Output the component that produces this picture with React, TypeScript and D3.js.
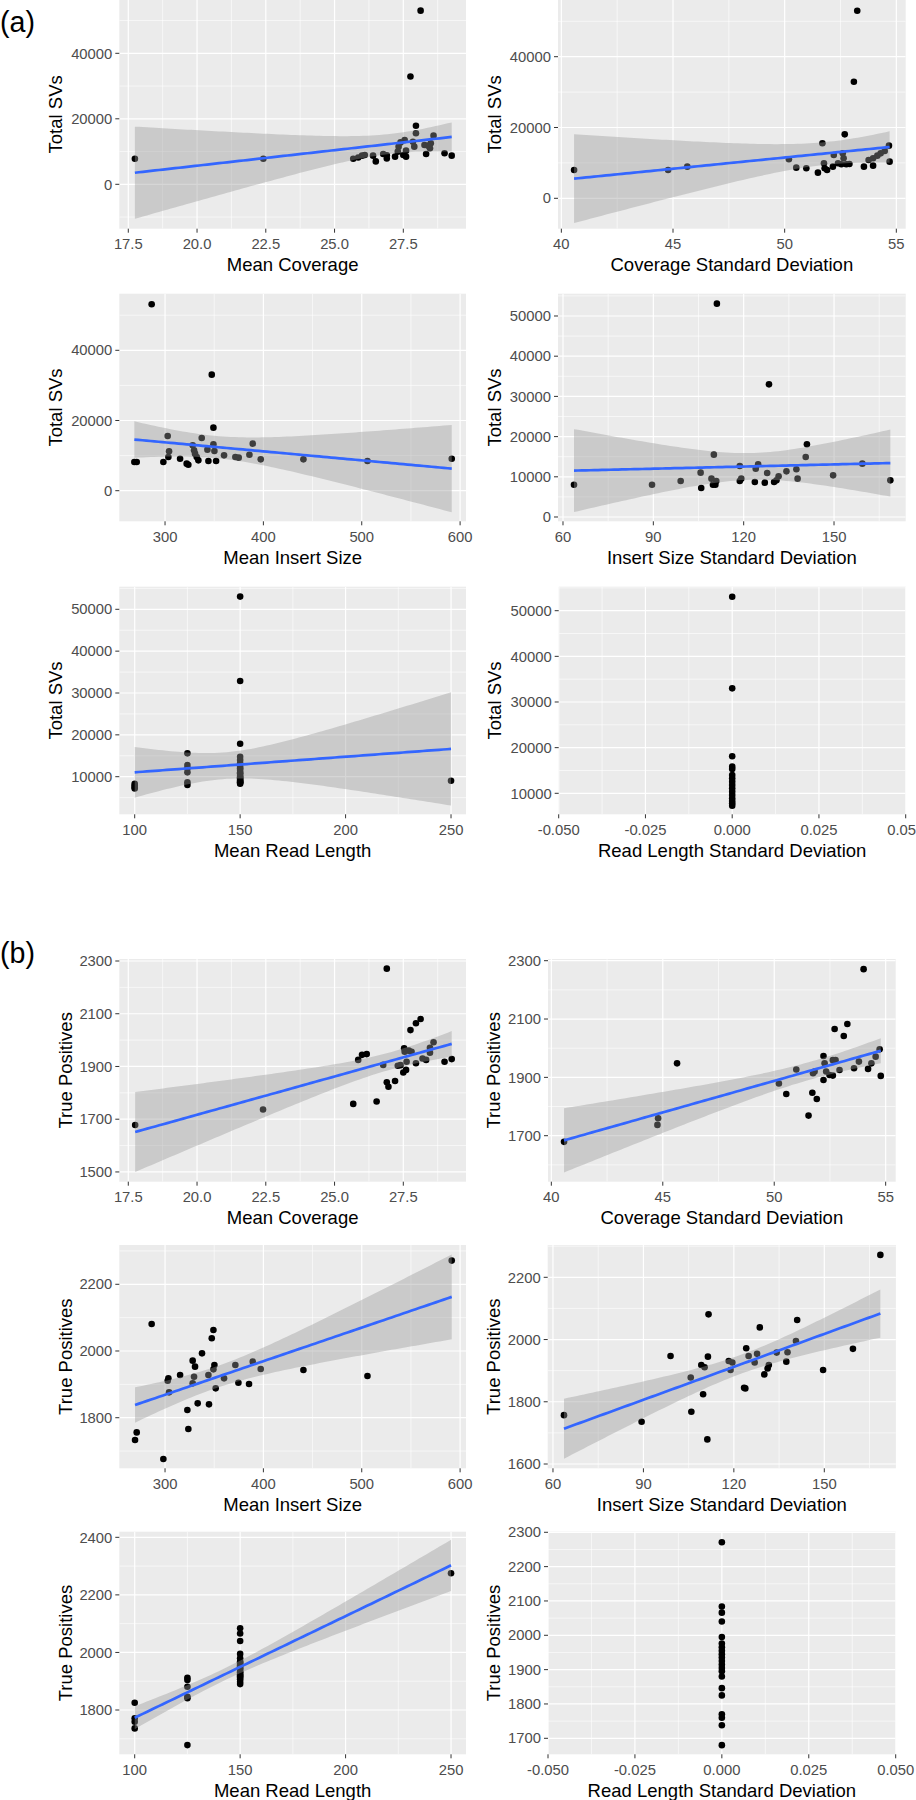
import React from "react";
import * as d3 from "d3";

type Pt = [number, number];

// (a) Total SVs against each metric
const meanCoverageSVs: Pt[] = [
  [17.74, 7800], [22.41, 7800], [25.68, 7800], [25.86, 8200], [26.0, 8750], [26.1, 8950],
  [26.4, 8750], [26.5, 7000], [26.77, 9260], [26.9, 8850], [26.9, 7900], [27.2, 8450],
  [27.3, 9970], [27.33, 11500], [27.4, 12800], [27.5, 8950], [27.55, 13500], [27.6, 10280],
  [27.6, 8450], [27.76, 32900], [27.9, 11500], [27.85, 13000], [27.96, 15570], [27.96, 17900],
  [28.13, 53030], [28.27, 12000], [28.33, 9260], [28.4, 11800], [28.47, 11000], [28.6, 14860],
  [28.5, 12500], [29.0, 9460], [29.26, 8750],
];

const coverageSdSVs: Pt[] = [
  [40.57, 8000], [44.78, 8000], [45.64, 8940], [50.19, 11010], [50.52, 8660], [50.97, 8470],
  [51.49, 7250], [51.69, 15530], [51.76, 9880], [51.79, 8470], [51.9, 8000], [52.16, 8940],
  [52.2, 12240], [52.39, 9880], [52.54, 9600], [52.6, 12700], [52.64, 11300], [52.69, 18070],
  [52.76, 9600], [52.9, 9690], [53.1, 32940], [53.25, 52990], [53.55, 8940], [53.76, 10820],
  [53.96, 9220], [53.96, 11300], [54.15, 12050], [54.3, 12700], [54.48, 13360], [54.67, 14870],
  [54.7, 10350],
];

const insertMeanSVs: Pt[] = [
  [268.8, 8170], [271.2, 8170], [286.4, 53100], [298.3, 8170], [302.7, 15580], [303.4, 9600],
  [304.1, 11210], [315.3, 9120], [322.0, 7700], [323.7, 7410], [328.1, 12920], [329.5, 11500],
  [330.5, 10550], [332.2, 9600], [333.9, 8650], [337.3, 15010], [343.1, 11690], [344.1, 8460],
  [347.5, 33060], [349.2, 17960], [349.2, 13210], [350.2, 11310], [351.9, 8460], [360.0, 10070],
  [371.5, 9600], [374.9, 9410], [385.8, 10260], [389.2, 13400], [397.3, 8930], [440.7, 8930],
  [505.8, 8460], [591.5, 9120],
];

const insertSdSVs: Pt[] = [
  [63.65, 8040], [89.56, 8040], [99.08, 8960], [105.7, 11030], [105.9, 7210], [109.3, 9540],
  [109.8, 8040], [110.1, 15510], [110.6, 8040], [110.9, 8960], [111.1, 53070], [118.7, 12690],
  [118.7, 8960], [119.2, 9540], [123.7, 8710], [124.0, 12020], [124.8, 13100], [127.0, 8540],
  [127.8, 10950], [128.4, 33000], [130.1, 8710], [130.9, 9120], [131.6, 10120], [134.2, 11360],
  [137.5, 11860], [137.9, 9540], [140.6, 14930], [141.0, 18080], [149.7, 10360], [159.4, 13270],
  [168.7, 9120],
];

const readLengthSVs: Pt[] = [
  [100, 8300], [100, 7900], [100, 7500], [100, 7200],
  [125, 15580], [125, 12790], [125, 11990], [125, 11040], [125, 8650], [125, 8010],
  [150, 53030], [150, 32870], [150, 17890], [150, 14780], [150, 13980], [150, 13190],
  [150, 12390], [150, 12000], [150, 11590], [150, 11000], [150, 10800], [150, 10400],
  [150, 10000], [150, 9800], [150, 9600], [150, 9200], [150, 9000], [150, 8800],
  [150, 8650], [150, 8500], [150, 8330],
  [250, 9040],
];

// read length SD is 0 for every sample, only the SV counts vary
const readLengthSdSVs: number[] = [
  53070, 32990, 18100, 15840, 15330, 14010, 13280, 12550, 11820, 11100, 10360, 9640, 8900,
  8320, 7810, 7300,
];

// (b) True Positives against each metric
const meanCoverageTP: Pt[] = [
  [17.75, 1678], [22.4, 1737], [25.68, 1758], [26.53, 1767], [26.9, 2271], [25.86, 1925],
  [26.0, 1944], [26.17, 1947], [26.77, 1906], [26.9, 1840], [26.96, 1823], [27.2, 1845],
  [27.3, 1903], [27.4, 1905], [27.5, 1877], [27.6, 1887], [27.53, 1969], [27.55, 1956],
  [27.62, 1918], [27.7, 1960], [27.76, 2038], [27.96, 2064], [28.13, 2080], [27.8, 1956],
  [27.96, 1912], [28.2, 1930], [28.33, 1925], [28.47, 1971], [28.6, 1992], [28.47, 1952],
  [29.0, 1918], [29.26, 1928],
];

const coverageSdTP: Pt[] = [
  [40.57, 1679], [44.76, 1737], [44.79, 1760], [45.64, 1948], [50.21, 1879], [50.54, 1843],
  [50.99, 1927], [51.54, 1769], [51.71, 1847], [51.74, 1914], [51.81, 1920], [51.91, 1826],
  [52.21, 1973], [52.21, 1891], [52.26, 1948], [52.33, 1920], [52.48, 1908], [52.63, 1906],
  [52.63, 1959], [52.71, 2066], [52.75, 1959], [52.93, 1925], [53.12, 2042], [53.28, 2083],
  [53.58, 1931], [53.8, 1954], [54.01, 2271], [54.21, 1929], [54.36, 1948], [54.55, 1971],
  [54.73, 1996], [54.78, 1905],
];

const insertMeanTP: Pt[] = [
  [269.5, 1733], [271.2, 1756], [286.4, 2081], [298.3, 1676], [302.7, 1911], [303.4, 1918],
  [304.1, 1876], [315.3, 1928], [322.7, 1823], [323.7, 1766], [328.1, 1971], [330.5, 1953],
  [329.5, 1923], [328.1, 1903], [333.2, 1843], [337.6, 1993], [344.1, 1928], [344.7, 1840],
  [347.5, 2038], [349.2, 2063], [350.2, 1958], [349.2, 1945], [351.5, 1888], [360.0, 1918],
  [371.5, 1958], [374.6, 1905], [385.4, 1901], [389.2, 1968], [397.3, 1946], [440.7, 1943],
  [505.8, 1925], [591.5, 2271],
];

const insertSdTP: Pt[] = [
  [63.65, 1757], [89.4, 1736], [99.0, 1947], [105.7, 1878], [105.9, 1768], [109.2, 1918],
  [109.8, 1824], [110.3, 1911], [111.4, 1945], [111.2, 1679], [111.6, 2081], [118.3, 1931],
  [118.9, 1902], [119.5, 1926], [123.4, 1845], [123.8, 1843], [124.1, 1972], [124.9, 1947],
  [126.9, 1926], [127.7, 1954], [128.6, 2039], [130.1, 1888], [131.2, 1907], [131.6, 1918],
  [134.2, 1958], [137.4, 1929], [137.8, 1959], [140.6, 1995], [141.0, 2063], [149.6, 1902],
  [159.5, 1970], [168.6, 2272],
];

const readLengthTP: Pt[] = [
  [100, 1825], [100, 1771], [100, 1759], [100, 1736],
  [125, 1912], [125, 1904], [125, 1881], [125, 1846], [125, 1841], [125, 1678],
  [150, 2084], [150, 2066], [150, 2040], [150, 1995], [150, 1980], [150, 1968],
  [150, 1965], [150, 1960], [150, 1955], [150, 1951], [150, 1945], [150, 1941],
  [150, 1933], [150, 1930], [150, 1924], [150, 1920], [150, 1916], [150, 1912],
  [150, 1907], [150, 1898], [150, 1890],
  [250, 2275],
];

const readLengthSdTP: number[] = [
  2271, 2084, 2066, 2040, 1995, 1976, 1965, 1955, 1945, 1935, 1925, 1915, 1905, 1895, 1880,
  1846, 1825, 1770, 1760, 1738, 1680,
];

// tick values
const covTicks = [17.5, 20, 22.5, 25, 27.5];
const covSdTicks = [40, 45, 50, 55];
const insTicks = [300, 400, 500, 600];
const insSdTicks = [60, 90, 120, 150];
const rlTicks = [100, 150, 200, 250];
const rlSdTicks = [-0.05, -0.025, 0, 0.025, 0.05];
const svTicks3 = [0, 20000, 40000];
const svTicks6 = [0, 10000, 20000, 30000, 40000, 50000];
const svTicks5 = [10000, 20000, 30000, 40000, 50000];

const FONT = "'Liberation Sans', Arial, Helvetica, sans-serif";
const f1 = (v: number) => v.toFixed(1);
const f0 = (v: number) => String(v);
const f3 = (v: number) => v.toFixed(3);

const panels = [
  { id: "a1", rect: [119.3, 0, 466, 228.7], xd: [17.173, 29.78], yd: [-13557, 56275], xt: covTicks, xf: f1, yt: svTicks3, xTitle: "Mean Coverage", yTitle: "Total SVs", yTitleX: 62, data: meanCoverageSVs, smooth: true },
  { id: "a2", rect: [558, 0, 905.7, 228.7], xd: [39.85, 55.42], yd: [-8588, 56017], xt: covSdTicks, xf: f0, yt: svTicks3, xTitle: "Coverage Standard Deviation", yTitle: "Total SVs", yTitleX: 500.7, data: coverageSdSVs, smooth: true },
  { id: "a3", rect: [119.3, 293.7, 466, 521.3], xd: [253.5, 606], yd: [-8718, 56125], xt: insTicks, xf: f0, yt: svTicks3, xTitle: "Mean Insert Size", yTitle: "Total SVs", yTitleX: 62, data: insertMeanSVs, smooth: true },
  { id: "a4", rect: [558, 293.7, 905.7, 521.3], xd: [58.34, 173.8], yd: [-1070, 55547], xt: insSdTicks, xf: f0, yt: svTicks6, xTitle: "Insert Size Standard Deviation", yTitle: "Total SVs", yTitleX: 500.7, data: insertSdSVs, smooth: true },
  { id: "a5", rect: [119.3, 586.7, 466, 814.3], xd: [92.7, 257.1], yd: [1016, 55400], xt: rlTicks, xf: f0, yt: svTicks5, xTitle: "Mean Read Length", yTitle: "Total SVs", yTitleX: 62, data: readLengthSVs, smooth: true },
  { id: "a6", rect: [558.7, 586.7, 905.7, 814.3], xd: [-0.05, 0.05], yd: [5400, 55257], xt: rlSdTicks, xf: f3, yt: svTicks5, xTitle: "Read Length Standard Deviation", yTitle: "Total SVs", yTitleX: 500.7, data: readLengthSdSVs.map((v) => [0, v] as Pt), smooth: false },
  { id: "b1", rect: [119.3, 959, 466, 1181.7], xd: [17.173, 29.78], yd: [1463, 2307.6], xt: covTicks, xf: f1, yt: [1500, 1700, 1900, 2100, 2300], xTitle: "Mean Coverage", yTitle: "True Positives", yTitleX: 71.5, data: meanCoverageTP, smooth: true },
  { id: "b2", rect: [548, 959, 895.7, 1181.7], xd: [39.85, 55.45], yd: [1542.3, 2305.8], xt: covSdTicks, xf: f0, yt: [1700, 1900, 2100, 2300], xTitle: "Coverage Standard Deviation", yTitle: "True Positives", yTitleX: 500, data: coverageSdTP, smooth: true },
  { id: "b3", rect: [119.3, 1245, 466, 1468.3], xd: [253.5, 606], yd: [1648.3, 2317.8], xt: insTicks, xf: f0, yt: [1800, 2000, 2200], xTitle: "Mean Insert Size", yTitle: "True Positives", yTitleX: 71.5, data: insertMeanTP, smooth: true },
  { id: "b4", rect: [547.7, 1245, 895.9, 1468.3], xd: [58.25, 173.75], yd: [1586.2, 2303.8], xt: insSdTicks, xf: f0, yt: [1600, 1800, 2000, 2200], xTitle: "Insert Size Standard Deviation", yTitle: "True Positives", yTitleX: 500, data: insertSdTP, smooth: true },
  { id: "b5", rect: [119.3, 1531.7, 466, 1754.3], xd: [92.7, 257.1], yd: [1646.1, 2419.5], xt: rlTicks, xf: f0, yt: [1800, 2000, 2200, 2400], xTitle: "Mean Read Length", yTitle: "True Positives", yTitleX: 71.5, data: readLengthTP, smooth: true },
  { id: "b6", rect: [548, 1531.7, 895.7, 1754.3], xd: [-0.05, 0.05], yd: [1653.4, 2301.7], xt: rlSdTicks, xf: f3, yt: [1700, 1800, 1900, 2000, 2100, 2200, 2300], xTitle: "Read Length Standard Deviation", yTitle: "True Positives", yTitleX: 500, data: readLengthSdTP.map((v) => [0, v] as Pt), smooth: false },
];

// student t 0.975 quantile, Cornish-Fisher expansion
function tQuantile(df: number) {
  const z = 1.959964;
  return (
    z +
    (z ** 3 + z) / (4 * df) +
    (5 * z ** 5 + 16 * z ** 3 + 3 * z) / (96 * df ** 2) +
    (3 * z ** 7 + 19 * z ** 5 + 17 * z ** 3 - 15 * z) / (384 * df ** 3)
  );
}

type Fit = { x: number; fit: number; lo: number; hi: number };

// lm fit with 95% confidence band, like geom_smooth(method = "lm")
function lmBand(pts: Pt[], n = 80): Fit[] {
  const N = pts.length;
  const mx = d3.mean(pts, (d) => d[0])!;
  const my = d3.mean(pts, (d) => d[1])!;
  const sxx = d3.sum(pts, (d) => (d[0] - mx) ** 2);
  const sxy = d3.sum(pts, (d) => (d[0] - mx) * (d[1] - my));
  const b = sxy / sxx;
  const a = my - b * mx;
  const rss = d3.sum(pts, (d) => (d[1] - a - b * d[0]) ** 2);
  const s = Math.sqrt(rss / (N - 2));
  const t = tQuantile(N - 2);
  const [x0, x1] = d3.extent(pts, (d) => d[0]) as [number, number];
  return d3.range(n).map((i) => {
    const x = x0 + ((x1 - x0) * i) / (n - 1);
    const yhat = a + b * x;
    const se = s * Math.sqrt(1 / N + (x - mx) ** 2 / sxx);
    return { x, fit: yhat, lo: yhat - t * se, hi: yhat + t * se };
  });
}

function minorBreaks(ticks: number[], domain: number[]) {
  const step = ticks[1] - ticks[0];
  const out: number[] = [];
  for (let i = -1; i < ticks.length; i++) {
    const v = ticks[0] + step * (i + 0.5);
    if (v > domain[0] && v < domain[1]) out.push(v);
  }
  return out;
}

function Panel({ p }: { p: (typeof panels)[number] }) {
  const [x0, y0, x1, y1] = p.rect;
  const x = d3.scaleLinear().domain(p.xd).range([x0, x1]);
  const y = d3.scaleLinear().domain(p.yd).range([y1, y0]);
  const fit = p.smooth ? lmBand(p.data) : null;
  const area = d3.area<Fit>().x((d) => x(d.x)).y0((d) => y(d.lo)).y1((d) => y(d.hi));
  const line = d3.line<Fit>().x((d) => x(d.x)).y((d) => y(d.fit));
  const clip = `clip-${p.id}`;

  return (
    <g>
      <defs>
        <clipPath id={clip}>
          <rect x={x0} y={y0} width={x1 - x0} height={y1 - y0} />
        </clipPath>
      </defs>
      <rect x={x0} y={y0} width={x1 - x0} height={y1 - y0} fill="#EBEBEB" />
      <g clipPath={`url(#${clip})`}>
        {minorBreaks(p.xt, p.xd).map((v) => (
          <line key={"mx" + v} x1={x(v)} x2={x(v)} y1={y0} y2={y1} stroke="#fff" strokeWidth={0.6} />
        ))}
        {minorBreaks(p.yt, p.yd).map((v) => (
          <line key={"my" + v} x1={x0} x2={x1} y1={y(v)} y2={y(v)} stroke="#fff" strokeWidth={0.6} />
        ))}
        {p.xt.map((v) => (
          <line key={"gx" + v} x1={x(v)} x2={x(v)} y1={y0} y2={y1} stroke="#fff" strokeWidth={1.2} />
        ))}
        {p.yt.map((v) => (
          <line key={"gy" + v} x1={x0} x2={x1} y1={y(v)} y2={y(v)} stroke="#fff" strokeWidth={1.2} />
        ))}
        {p.data.map((d, i) => (
          <circle key={i} cx={x(d[0])} cy={y(d[1])} r={3.3} fill="#000" />
        ))}
        {fit && <path d={area(fit)!} fill="#999999" fillOpacity={0.4} />}
        {fit && <path d={line(fit)!} fill="none" stroke="#3366FF" strokeWidth={2.7} />}
      </g>
      {p.xt.map((v) => (
        <g key={"tx" + v}>
          <line x1={x(v)} x2={x(v)} y1={y1} y2={y1 + 4} stroke="#333" strokeWidth={1} />
          <text x={x(v)} y={y1 + 20.5} textAnchor="middle" fontSize={14.8} fill="#4D4D4D" fontFamily={FONT}>
            {p.xf(v)}
          </text>
        </g>
      ))}
      {p.yt.map((v) => (
        <g key={"ty" + v}>
          <line x1={x0 - 4} x2={x0} y1={y(v)} y2={y(v)} stroke="#333" strokeWidth={1} />
          <text x={x0 - 7} y={y(v) + 5.2} textAnchor="end" fontSize={14.8} fill="#4D4D4D" fontFamily={FONT}>
            {v}
          </text>
        </g>
      ))}
      <text x={(x0 + x1) / 2} y={y1 + 42.5} textAnchor="middle" fontSize={18.5} fill="#000" fontFamily={FONT}>
        {p.xTitle}
      </text>
      <text
        transform={`translate(${p.yTitleX},${(y0 + y1) / 2}) rotate(-90)`}
        textAnchor="middle"
        fontSize={18.5}
        fill="#000"
        fontFamily={FONT}
      >
        {p.yTitle}
      </text>
    </g>
  );
}

export default function App() {
  return (
    <svg
      width={916}
      height={1800}
      viewBox="0 0 916 1800"
      style={{ position: "absolute", left: 0, top: 0, background: "#fff" }}
    >
      <rect width={916} height={1800} fill="#fff" />
      {panels.map((p) => (
        <Panel key={p.id} p={p} />
      ))}
      <text x={0} y={32} fontSize={28.6} fontFamily={FONT} fill="#000">(a)</text>
      <text x={0} y={962.5} fontSize={28.6} fontFamily={FONT} fill="#000">(b)</text>
    </svg>
  );
}
